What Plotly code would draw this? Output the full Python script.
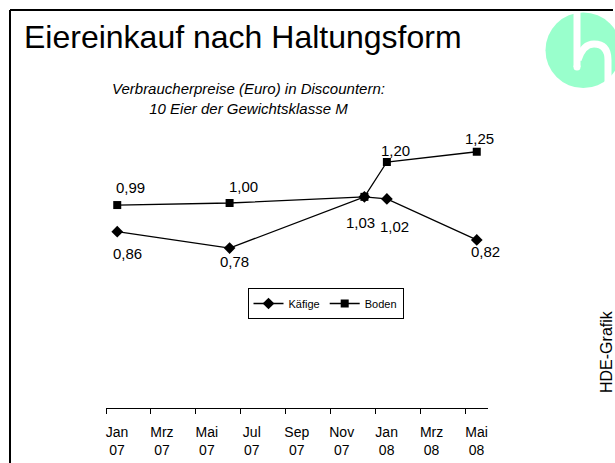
import plotly.graph_objects as go

# ---- data ----
months = ["Jan 07", "Feb 07", "Mrz 07", "Apr 07", "Mai 07", "Jun 07", "Jul 07", "Aug 07",
          "Sep 07", "Okt 07", "Nov 07", "Dez 07", "Jan 08", "Feb 08", "Mrz 08", "Apr 08", "Mai 08"]
obs_months = ["Jan 07", "Jun 07", "Dez 07", "Jan 08", "Mai 08"]
kaefige = [0.86, 0.78, 1.03, 1.02, 0.82]
boden = [0.99, 1.00, 1.03, 1.20, 1.25]
boden_label_show = [True, True, False, True, True]

title = "Eiereinkauf nach Haltungsform"
subtitle = "Verbraucherpreise (Euro) in Discountern:<br>10 Eier der Gewichtsklasse M"
source = "HDE-Grafik"

# ---- styling / layout helpers ----
W, H = 615, 463
ML, MR, MT, MB = 106, 127, 121, 55
PW, PH = W - ML - MR, H - MT - MB
FONT = "Liberation Sans, Arial, sans-serif"

def px_x(x):
    return (x - ML) / PW

def px_y(y):
    return (H - MB - y) / PH

x_idx = [months.index(m) for m in obs_months]
tick_idx = list(range(0, len(months), 2))
tickvals = [i - 0.5 for i in tick_idx]
ticktext = [months[i].replace(" ", "<br>") for i in tick_idx]
cat_px = PW / len(months)

def fmt(v):
    return f"{v:.2f}".replace(".", ",")

# label pixel offsets (style)
boden_off = [(13, 18), (14, 17), (0, 0), (9, 12), (3, 13)]
kaef_off = [(10, -22), (5, -13), (-4, -26), (8, -28), (9, -12)]

fig = go.Figure()
fig.add_trace(go.Scatter(x=x_idx, y=kaefige, name="Käfige", mode="lines+markers",
                         line=dict(color="black", width=1.3),
                         marker=dict(symbol="diamond", size=9, color="black")))
fig.add_trace(go.Scatter(x=x_idx, y=boden, name="Boden", mode="lines+markers",
                         line=dict(color="black", width=1.3),
                         marker=dict(symbol="square", size=8, color="black")))

annotations = []
for xi, v, (dx, dy), show in zip(x_idx, boden, boden_off, boden_label_show):
    if show:
        annotations.append(dict(x=xi, y=v, xref="x", yref="y", text=fmt(v), showarrow=False,
                                xshift=dx, yshift=dy, font=dict(size=15, color="black", family=FONT)))
for xi, v, (dx, dy) in zip(x_idx, kaefige, kaef_off):
    annotations.append(dict(x=xi, y=v, xref="x", yref="y", text=fmt(v), showarrow=False,
                            xshift=dx, yshift=dy, font=dict(size=15, color="black", family=FONT)))

annotations.append(dict(x=px_x(22), y=px_y(37), xref="paper", yref="paper", text=title,
                        showarrow=False, xanchor="left", yanchor="middle",
                        font=dict(size=32, color="black", family=FONT)))
annotations.append(dict(x=px_x(248), y=px_y(98.5), xref="paper", yref="paper", text=subtitle,
                        showarrow=False, xanchor="center", yanchor="middle",
                        font=dict(size=15, color="black", family=FONT, style="italic")))
annotations.append(dict(x=px_x(606), y=px_y(352), xref="paper", yref="paper", text=source,
                        showarrow=False, xanchor="center", yanchor="middle", textangle=-90,
                        font=dict(size=16, color="black", family=FONT)))

def path(cmds):
    out = []
    for c in cmds:
        if isinstance(c, str):
            out.append(c)
        else:
            out.append(f"{px_x(c[0]):.5f},{px_y(c[1]):.5f}")
    return " ".join(out)

shapes = [
    # frame
    dict(type="line", xref="paper", yref="paper", x0=px_x(10), y0=px_y(10), x1=px_x(613), y1=px_y(10),
         line=dict(color="black", width=2)),
    dict(type="line", xref="paper", yref="paper", x0=px_x(10), y0=px_y(10), x1=px_x(10), y1=px_y(475),
         line=dict(color="black", width=2)),
    # logo
    dict(type="circle", xref="paper", yref="paper", x0=px_x(545.5), x1=px_x(621), y0=px_y(88),
         y1=px_y(12.5), fillcolor="#99FFCC", line=dict(width=0)),
    dict(type="rect", xref="paper", yref="paper", x0=px_x(573.5), x1=px_x(580.5), y0=px_y(67),
         y1=px_y(12), fillcolor="white", line=dict(width=0)),
    dict(type="circle", xref="paper", yref="paper", x0=px_x(573.5), x1=px_x(580.5), y0=px_y(70.5),
         y1=px_y(63.5), fillcolor="white", line=dict(width=0)),
    dict(type="path", xref="paper", yref="paper",
         path=path(["M", (578, 60), "Q", (583, 44), (594, 44), "Q", (608, 44), (608, 60), "L", (608, 95)]),
         line=dict(color="white", width=7)),
]

fig.update_layout(
    width=W, height=H, autosize=False,
    margin=dict(l=ML, r=MR, t=MT, b=MB, autoexpand=False),
    paper_bgcolor="white", plot_bgcolor="white",
    font=dict(family=FONT, color="black"),
    xaxis=dict(range=[-0.5, len(months) - 0.5], tickvals=tickvals, ticktext=ticktext,
               ticklabelshift=int(round(cat_px / 2)), ticklabelstandoff=6, automargin=False,
               ticks="outside", ticklen=5, tickcolor="black",
               showline=True, linecolor="black", linewidth=1, showgrid=False, zeroline=False,
               tickfont=dict(size=14, color="black", family=FONT), fixedrange=True),
    yaxis=dict(range=[0, 1.4], visible=False, fixedrange=True, automargin=False),
    legend=dict(orientation="h", x=px_x(325.5), y=px_y(303.5), xanchor="center", yanchor="middle",
                bordercolor="black", borderwidth=1, font=dict(size=11, color="black", family=FONT),
                itemwidth=30, bgcolor="white"),
    annotations=annotations,
    shapes=shapes,
)

fig.write_html("out.html", config={"displayModeBar": False},
               post_script="document.body.style.margin='0';document.body.style.overflow='hidden';")
